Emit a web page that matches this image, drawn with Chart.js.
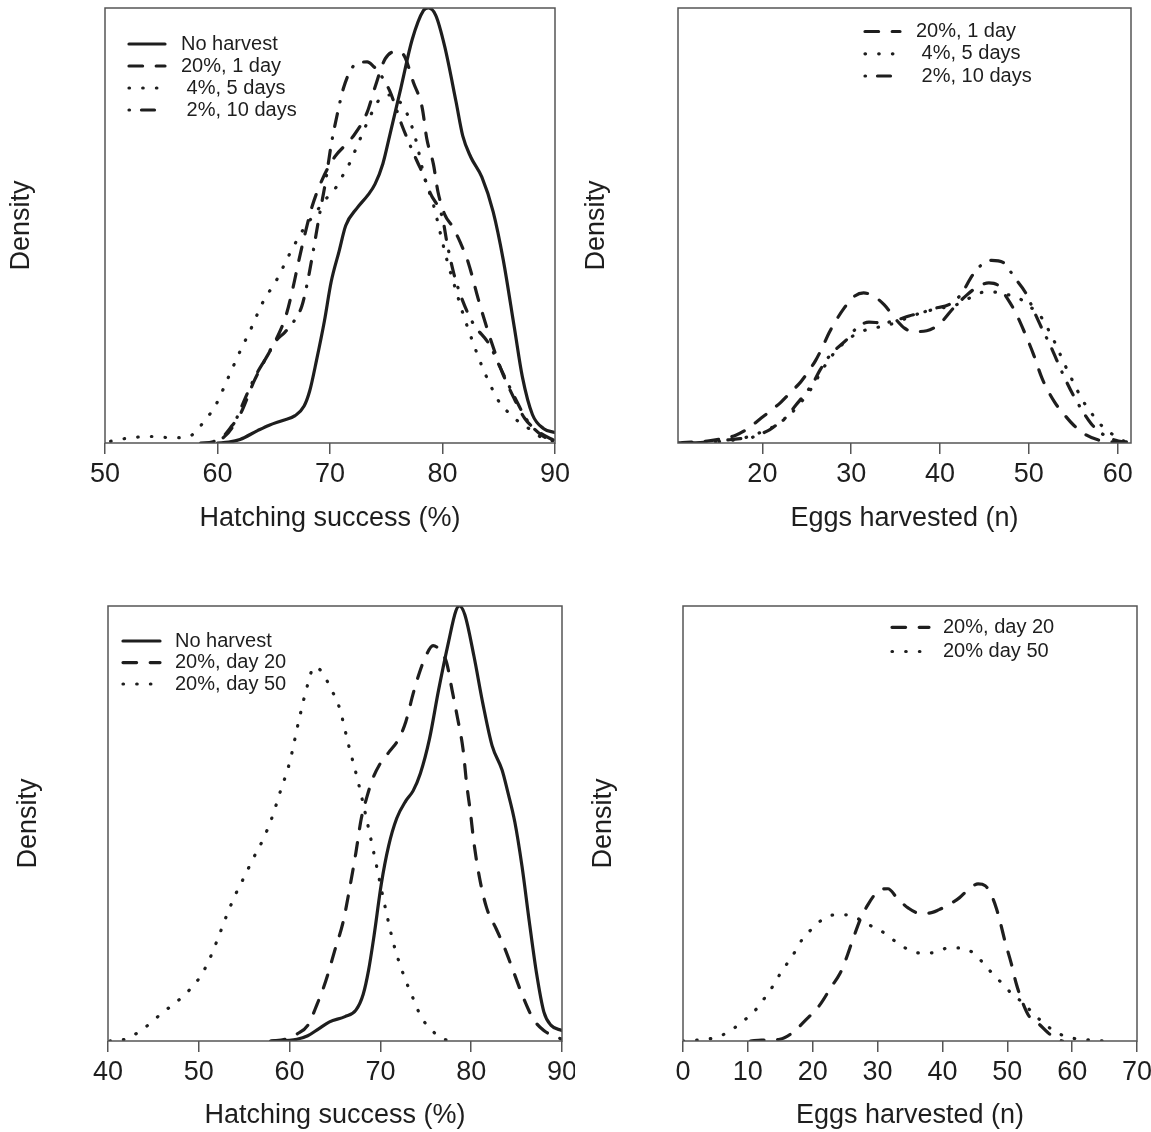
<!DOCTYPE html>
<html>
<head>
<meta charset="utf-8">
<script src="https://cdn.jsdelivr.net/npm/chart.js@4.4.1/dist/chart.umd.min.js"></script>
<style>
  body { margin: 0; background: #fff; }
  #wrap { position: relative; width: 1151px; height: 1132px; }
  canvas { position: absolute; }
</style>
</head>
<body>
<div id="wrap">
  <canvas id="tl" width="575" height="566" style="left:0;top:0"></canvas>
  <canvas id="tr" width="576" height="566" style="left:575px;top:0"></canvas>
  <canvas id="bl" width="575" height="566" style="left:0;top:566px"></canvas>
  <canvas id="br" width="576" height="566" style="left:575px;top:566px"></canvas>
</div>
<script>
// density curves, y is relative density (1 = top of panel)

// top left: hatching success
const tlTicks = [50, 60, 70, 80, 90];
const tlNoHarvestX = [60, 61, 62, 63.6, 64.6, 65.8, 66.9, 67.7, 68.2, 68.8, 69.5, 70.1, 70.8, 71.4, 72.4, 73.4, 74.0, 74.7, 75.3, 76.3, 77.3, 78.3, 78.75, 79.4, 80.2, 81.2, 81.8, 82.5, 83.5, 84.5, 85.4, 86.4, 87.1, 88.0, 89.0, 90];
const tlNoHarvestY = [0, 0.002, 0.008, 0.029, 0.041, 0.052, 0.063, 0.085, 0.12, 0.19, 0.28, 0.37, 0.44, 0.5, 0.54, 0.571, 0.595, 0.642, 0.706, 0.816, 0.927, 0.994, 1.0, 0.983, 0.911, 0.785, 0.706, 0.658, 0.611, 0.532, 0.421, 0.263, 0.152, 0.065, 0.033, 0.024];
const tl1DayX = [58.5, 59.6, 60.5, 61.3, 62.0, 63.3, 64.2, 65.1, 66.1, 66.7, 67.2, 67.8, 68.4, 69.3, 70.4, 72.0, 73.3, 74.0, 74.9, 75.9, 76.6, 77.4, 78.2, 78.6, 79.2, 79.6, 80.2, 80.9, 81.6, 82.3, 83.2, 84.2, 85.3, 86.3, 87.3, 88.7, 90];
const tl1DayY = [0, 0.003, 0.015, 0.04, 0.065, 0.145, 0.19, 0.232, 0.294, 0.356, 0.416, 0.483, 0.543, 0.605, 0.657, 0.703, 0.76, 0.818, 0.883, 0.9, 0.89, 0.83, 0.77, 0.70, 0.64, 0.577, 0.525, 0.497, 0.46, 0.414, 0.329, 0.244, 0.163, 0.106, 0.057, 0.023, 0.005];
const tl5DaysX = [50.5, 52, 54, 56, 57.5, 58.4, 59.2, 59.9, 60.9, 61.9, 63.0, 64.0, 65.3, 66.4, 67.6, 68.3, 69.8, 70.6, 71.2, 71.8, 72.3, 73.3, 74.4, 75.3, 76.0, 76.8, 77.6, 78.4, 79.2, 79.8, 80.4, 81.1, 81.8, 82.6, 83.5, 84.5, 85.1, 85.9, 86.9, 88.0, 88.9, 90];
const tl5DaysY = [0.004, 0.011, 0.015, 0.012, 0.015, 0.037, 0.062, 0.09, 0.147, 0.205, 0.264, 0.322, 0.377, 0.434, 0.49, 0.515, 0.566, 0.59, 0.618, 0.646, 0.676, 0.736, 0.79, 0.80, 0.79, 0.76, 0.70, 0.61, 0.547, 0.483, 0.42, 0.359, 0.299, 0.239, 0.177, 0.12, 0.092, 0.069, 0.046, 0.028, 0.011, 0.004];
const tl10DaysX = [59.5, 60.5, 61.3, 62.0, 62.7, 63.5, 64.3, 65.1, 66.0, 66.8, 67.5, 68.0, 68.5, 69.0, 69.6, 70.1, 70.6, 71.2, 71.9, 72.6, 73.3, 73.9, 74.4, 75.3, 76.4, 77.7, 78.4, 78.9, 80.0, 80.4, 81.0, 81.7, 82.7, 84.2, 85.1, 86.4, 87.5, 88.7, 90];
const tl10DaysY = [0, 0.012, 0.035, 0.075, 0.117, 0.16, 0.195, 0.232, 0.255, 0.28, 0.315, 0.37, 0.44, 0.515, 0.6, 0.685, 0.75, 0.816, 0.86, 0.875, 0.876, 0.865, 0.85, 0.81, 0.73, 0.65, 0.61, 0.575, 0.517, 0.46, 0.39, 0.333, 0.276, 0.225, 0.175, 0.106, 0.053, 0.02, 0.003];

// top right: eggs harvested
const trTicks = [20, 30, 40, 50, 60];
const tr1DayX = [10.5, 12, 14, 15.5, 17, 18.5, 19.6, 21, 22.1, 23.2, 24.3, 25.2, 26, 26.8, 27.5, 28.3, 29.2, 30.2, 31.4, 32.5, 33.7, 35, 36, 37, 38.5, 40, 41.5, 43, 44.3, 45.5, 46.5, 47.5, 48.5, 49.5, 50.5, 51.5, 52.9, 54, 55, 56.5, 58, 60, 61.5];
const tr1DayY = [0, 0.002, 0.005, 0.01, 0.018, 0.035, 0.053, 0.075, 0.094, 0.117, 0.14, 0.165, 0.19, 0.222, 0.253, 0.282, 0.31, 0.335, 0.345, 0.338, 0.318, 0.285, 0.264, 0.256, 0.258, 0.275, 0.31, 0.34, 0.36, 0.368, 0.363, 0.335, 0.30, 0.255, 0.205, 0.148, 0.094, 0.065, 0.042, 0.018, 0.006, 0.002, 0];
const tr5DaysX = [10.5, 14, 16.5, 18, 19.5, 21, 22.7, 24, 25.5, 26.8, 28, 29.3, 30.5, 32, 34, 36, 38, 40, 41.5, 43, 44.5, 45.7, 47, 48.8, 50, 51.2, 52, 53, 54, 55, 56, 57, 58, 59.2, 60.4, 61.5];
const tr5DaysY = [0, 0.002, 0.006, 0.012, 0.022, 0.035, 0.058, 0.085, 0.125, 0.17, 0.205, 0.232, 0.25, 0.262, 0.27, 0.285, 0.30, 0.31, 0.315, 0.33, 0.345, 0.348, 0.343, 0.334, 0.315, 0.295, 0.268, 0.228, 0.182, 0.14, 0.10, 0.07, 0.044, 0.023, 0.007, 0.001];
const tr10DaysX = [10.5, 13, 15, 16.5, 17.5, 18.7, 19.7, 20.8, 21.8, 22.7, 23.8, 24.7, 25.7, 26.5, 27.4, 28.2, 29.6, 30.5, 32, 33.5, 35, 36.5, 38, 39.5, 41, 42.3, 43.7, 44.7, 45.8, 47.1, 48.4, 49.7, 50.6, 51.5, 52.4, 53.8, 55, 56, 57, 58, 59.5, 61.5];
const tr10DaysY = [0, 0.001, 0.004, 0.008, 0.01, 0.012, 0.02, 0.03, 0.045, 0.06, 0.088, 0.11, 0.138, 0.168, 0.196, 0.214, 0.24, 0.262, 0.278, 0.276, 0.282, 0.292, 0.30, 0.31, 0.318, 0.34, 0.387, 0.41, 0.42, 0.415, 0.38, 0.343, 0.302, 0.262, 0.225, 0.16, 0.11, 0.075, 0.045, 0.025, 0.008, 0.001];

// bottom left: hatching success
const blTicks = [40, 50, 60, 70, 80, 90];
const blNoHarvestX = [57.9, 60.8, 62.0, 63.2, 64.4, 66.1, 67.3, 68.1, 68.7, 69.3, 70.1, 70.9, 71.8, 72.8, 73.6, 74.4, 75.4, 76.4, 77.5, 78.3, 78.7, 79.3, 80.3, 81.3, 82.3, 83.4, 84.0, 84.8, 85.6, 86.4, 87.2, 88.0, 88.8, 90];
const blNoHarvestY = [0, 0.004, 0.012, 0.028, 0.044, 0.056, 0.071, 0.107, 0.163, 0.242, 0.361, 0.448, 0.512, 0.552, 0.575, 0.615, 0.694, 0.806, 0.917, 0.988, 1.0, 0.98, 0.885, 0.774, 0.679, 0.623, 0.575, 0.504, 0.401, 0.274, 0.155, 0.067, 0.036, 0.024];
const blDay20X = [58, 59.5, 60.8, 62.0, 63.0, 64.0, 65.0, 65.9, 66.7, 67.3, 67.9, 68.5, 69.1, 69.9, 70.9, 72.0, 72.8, 73.6, 74.4, 75.0, 75.8, 76.6, 77.3, 77.9, 78.5, 79.1, 79.5, 79.9, 80.3, 80.9, 81.7, 82.75, 83.6, 84.6, 85.6, 86.8, 88.0, 89.3, 90];
const blDay20Y = [0, 0.004, 0.016, 0.036, 0.083, 0.139, 0.21, 0.274, 0.361, 0.433, 0.512, 0.56, 0.60, 0.635, 0.663, 0.694, 0.734, 0.798, 0.853, 0.885, 0.909, 0.897, 0.869, 0.806, 0.742, 0.671, 0.591, 0.528, 0.456, 0.377, 0.306, 0.258, 0.218, 0.163, 0.107, 0.052, 0.024, 0.01, 0.004];
const blDay50X = [40.2, 42, 44, 46, 48, 50, 51, 52, 53, 54, 55, 56, 57, 58, 59, 60, 61, 62, 62.7, 63.5, 64.5, 65.5, 66.5, 67.5, 68.5, 69.5, 70.5, 71.5, 72.5, 73.5, 74.5, 75.5, 77, 78.5];
const blDay50Y = [0, 0.005, 0.03, 0.065, 0.098, 0.143, 0.18, 0.23, 0.285, 0.335, 0.377, 0.42, 0.46, 0.51, 0.575, 0.64, 0.735, 0.82, 0.86, 0.85, 0.812, 0.765, 0.68, 0.60, 0.508, 0.41, 0.31, 0.22, 0.155, 0.103, 0.055, 0.028, 0.004, 0];

// bottom right: eggs harvested
const brTicks = [0, 10, 20, 30, 40, 50, 60, 70];
const brDay20X = [10.4, 12.1, 14.9, 16.6, 18.9, 21.1, 22.8, 24.2, 25.1, 26.2, 27.4, 28.5, 29.6, 30.7, 31.6, 33.0, 34.7, 36.4, 37.8, 39.5, 40.9, 42.6, 44.05, 45.5, 46.6, 47.5, 48.3, 48.9, 49.7, 50.6, 51.4, 52.3, 53.4, 54.8, 56.2, 57.6, 58.5];
const brDay20Y = [0, 0.002, 0.004, 0.016, 0.048, 0.083, 0.123, 0.155, 0.187, 0.234, 0.282, 0.313, 0.337, 0.349, 0.35, 0.329, 0.306, 0.294, 0.294, 0.302, 0.313, 0.329, 0.349, 0.361, 0.357, 0.337, 0.306, 0.274, 0.226, 0.179, 0.131, 0.091, 0.056, 0.04, 0.02, 0.004, 0];
const brDay50X = [0, 2.15, 4.4, 6.4, 8.1, 9.8, 11.4, 12.6, 13.9, 15.0, 16.1, 17.3, 18.4, 19.9, 21.4, 23.4, 25.4, 27.4, 29.3, 31.3, 33.0, 34.8, 36.7, 39.0, 40.9, 42.9, 44.8, 46.3, 47.7, 49.3, 50.8, 52.5, 54.0, 55.4, 57.1, 59.1, 61.2, 63.3, 65];
const brDay50Y = [0, 0.002, 0.006, 0.016, 0.032, 0.052, 0.075, 0.099, 0.127, 0.155, 0.179, 0.206, 0.234, 0.258, 0.278, 0.29, 0.29, 0.278, 0.262, 0.246, 0.226, 0.21, 0.202, 0.204, 0.214, 0.214, 0.202, 0.179, 0.155, 0.131, 0.107, 0.087, 0.063, 0.044, 0.024, 0.01, 0.004, 0.002, 0];

const INK = '#1e1e1e';
const FRAME = '#555';
const FONT = "'Liberation Sans', Arial, sans-serif";
const SOLID = [];
const DASHED = [13.6, 13.6];
const DOTTED = [0.5, 13.2];
const DOTDASH = [0.5, 12, 13, 12];

function series(label, xs, ys, dash) {
    return {
        label: label,
        data: xs.map((x, i) => ({ x: x, y: ys[i] })),
        borderColor: INK,
        borderWidth: 3.2,
        borderDash: dash,
        borderCapStyle: 'round',
        borderJoinStyle: 'round',
        pointRadius: 0,
        fill: false,
        cubicInterpolationMode: 'monotone'
    };
}

// frame around the plot + legend inside it
const frameLegend = {
    id: 'frameLegend',
    afterDatasetsDraw(chart, args, opts) {
        const ctx = chart.ctx;
        const a = chart.chartArea;
        ctx.save();
        ctx.strokeStyle = FRAME;
        ctx.lineWidth = 1.5;
        ctx.setLineDash([]);
        ctx.strokeRect(a.left, a.top, a.right - a.left, a.bottom - a.top);

        ctx.font = '20px ' + FONT;
        ctx.textBaseline = 'middle';
        ctx.fillStyle = INK;
        chart.data.datasets.forEach((ds, i) => {
            const y = opts.rows[i];
            ctx.strokeStyle = INK;
            ctx.lineWidth = ds.borderWidth;
            ctx.lineCap = 'round';
            ctx.setLineDash(ds.borderDash);
            ctx.beginPath();
            ctx.moveTo(opts.x, y);
            ctx.lineTo(opts.x + opts.len, y);
            ctx.stroke();
            ctx.setLineDash([]);
            ctx.fillText(ds.label, opts.textX, y);
        });
        ctx.restore();
    }
};

function makeChart(id, xMin, xMax, ticks, xTitle, datasets, lay) {
    new Chart(document.getElementById(id), {
        type: 'line',
        data: { datasets: datasets },
        options: {
            responsive: false,
            animation: false,
            devicePixelRatio: 1,
            layout: { padding: { top: lay.top, right: lay.right, left: 0, bottom: 0 } },
            plugins: {
                legend: { display: false },
                tooltip: { enabled: false },
                frameLegend: lay.legend
            },
            scales: {
                x: {
                    type: 'linear',
                    min: xMin,
                    max: xMax,
                    afterBuildTicks: s => { s.ticks = ticks.map(v => ({ value: v })); },
                    afterFit: s => { s.height = lay.xh; s.paddingLeft = 0; s.paddingRight = 0; },
                    ticks: {
                        font: { size: 27, family: FONT },
                        color: INK,
                        padding: 4,
                        maxRotation: 0,
                        autoSkip: false,
                        callback: v => String(v)
                    },
                    grid: { drawOnChartArea: false, drawTicks: true, tickLength: 11, color: FRAME, lineWidth: 1.5 },
                    border: { display: false },
                    title: {
                        display: true,
                        text: xTitle,
                        color: INK,
                        font: { size: 27, family: FONT },
                        padding: { top: 0, bottom: lay.titlePad }
                    }
                },
                y: {
                    min: 0,
                    max: 1,
                    afterFit: s => { s.width = lay.left; },
                    ticks: { display: false },
                    grid: { display: false },
                    border: { display: false },
                    title: {
                        display: true,
                        text: 'Density',
                        color: INK,
                        font: { size: 27, family: FONT },
                        padding: { top: lay.yTitlePad, bottom: 0 }
                    }
                }
            }
        },
        plugins: [frameLegend]
    });
}

makeChart('tl', 50, 90, tlTicks, 'Hatching success (%)', [
    series('No harvest', tlNoHarvestX, tlNoHarvestY, SOLID),
    series('20%, 1 day', tl1DayX, tl1DayY, DASHED),
    series(' 4%, 5 days', tl5DaysX, tl5DaysY, DOTTED),
    series(' 2%, 10 days', tl10DaysX, tl10DaysY, DOTDASH)
], { top: 8, right: 20, left: 105, xh: 123, titlePad: 31, yTitlePad: 5,
     legend: { x: 129, len: 36, textX: 181, rows: [44, 66, 88, 110] } });

makeChart('tr', 10.5, 61.5, trTicks, 'Eggs harvested (n)', [
    series('20%, 1 day', tr1DayX, tr1DayY, DASHED),
    series(' 4%, 5 days', tr5DaysX, tr5DaysY, DOTTED),
    series(' 2%, 10 days', tr10DaysX, tr10DaysY, DOTDASH)
], { top: 8, right: 20, left: 103, xh: 123, titlePad: 31, yTitlePad: 5,
     legend: { x: 290, len: 35, textX: 341, rows: [31.5, 53.8, 76] } });

makeChart('bl', 40, 90, blTicks, 'Hatching success (%)', [
    series('No harvest', blNoHarvestX, blNoHarvestY, SOLID),
    series('20%, day 20', blDay20X, blDay20Y, DASHED),
    series('20%, day 50', blDay50X, blDay50Y, DOTTED)
], { top: 40, right: 13, left: 108, xh: 91, titlePad: 0, yTitlePad: 12,
     legend: { x: 123, len: 37, textX: 175, rows: [75, 96.6, 118] } });

makeChart('br', 0, 70, brTicks, 'Eggs harvested (n)', [
    series('20%, day 20', brDay20X, brDay20Y, DASHED),
    series('20% day 50', brDay50X, brDay50Y, DOTTED)
], { top: 40, right: 14, left: 108, xh: 91, titlePad: 0, yTitlePad: 12,
     legend: { x: 317, len: 37, textX: 368, rows: [61.3, 85.5] } });
</script>
</body>
</html>
